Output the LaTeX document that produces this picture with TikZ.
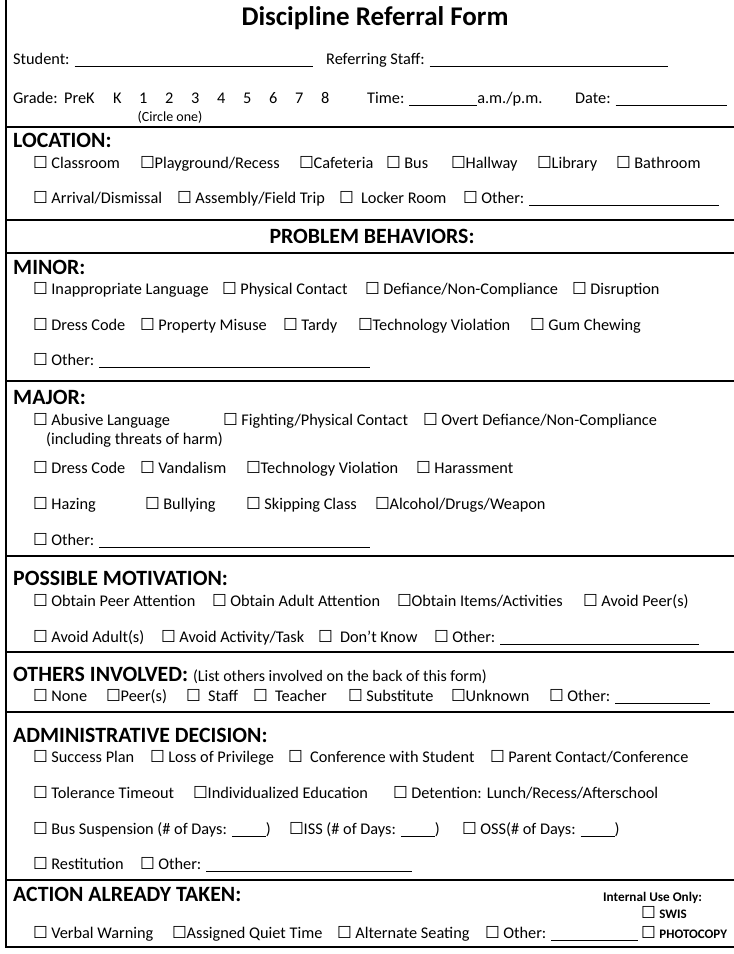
\documentclass[tikz,border=0pt]{standalone}
\usepackage{fontspec}
\setmainfont{Carlito}
\newfontfamily\boxfont{DejaVu Sans}
\newcommand\chk{{\boxfont\fontsize{16.5}{16.5}\selectfont ☐}\kern-0.3pt}
\newcommand\fillin[1]{\rule[-2.5pt]{#1}{0.9pt}}
\tikzset{
  item/.style={anchor=base west, inner sep=0pt, font=\fontsize{16.3}{19}\selectfont},
  heading/.style={anchor=base west, inner sep=0pt, font=\bfseries\fontsize{21.8}{24}\selectfont},
  small/.style={anchor=base west, inner sep=0pt, font=\bfseries\fontsize{13.2}{15}\selectfont},
  divider/.style={line width=1.3pt}
}
\begin{document}
\begin{tikzpicture}[x=1pt,y=-1pt]
      \useasboundingbox (0,0) rectangle (734,954);
      \draw[divider] (6,0) -- (6,947) -- (734,947);
      \foreach \y in {127,220,253,381,556,652,712,880}
        \draw[divider] (6,\y) -- (734,\y);

      \node[anchor=base, inner sep=0pt, font=\bfseries\fontsize{27}{30}\selectfont] (title) at (375,25) {Discipline Referral Form};
      \node[item] (student) at (13,64) {Student: \fillin{238pt}};
      \node[item] (staff) at (326,64) {Referring Staff: \fillin{238pt}};
      \node[item] (grade) at (13,103) {Grade:};
      \node[item] (prek) at (64,103) {PreK};
      \foreach \g [count=\i from 0] in {K,1,2,3,4,5,6,7,8}
        \node[item] (grade\i) at (113+26*\i,103) {\g};
      \node[anchor=base, inner sep=0pt, font=\fontsize{14}{16}\selectfont] (circle) at (170,121) {(Circle one)};
      \node[item] (time) at (367,103) {Time: \fillin{68pt}a.m./p.m.};
      \node[item] (date) at (575,103) {Date: \fillin{111pt}};

      \node[heading] (location) at (13,147) {LOCATION:};
      \node[item] (loc1) at (33,168) {\chk\ Classroom};
      \node[item] (loc2) at (140,168) {\chk Playground/Recess};
      \node[item] (loc3) at (299,168) {\chk Cafeteria};
      \node[item] (loc4) at (386,168) {\chk\ Bus};
      \node[item] (loc5) at (451,168) {\chk Hallway};
      \node[item] (loc6) at (537,168) {\chk Library};
      \node[item] (loc7) at (616,168) {\chk\ Bathroom};
      \node[item] (loc8) at (33,203) {\chk\ Arrival/Dismissal};
      \node[item] (loc9) at (177,203) {\chk\ Assembly/Field Trip};
      \node[item] (loc10) at (339,203) {\chk\ \ Locker Room};
      \node[item] (loc11) at (463,203) {\chk\ Other: \fillin{190pt}};

      \node[heading, anchor=base] (problem) at (372,243) {PROBLEM BEHAVIORS:};

      \node[heading] (minor) at (13,274) {MINOR:};
      \node[item] (min1) at (33,294) {\chk\ Inappropriate Language};
      \node[item] (min2) at (222,294) {\chk\ Physical Contact};
      \node[item] (min3) at (365,294) {\chk\ Defiance/Non-Compliance};
      \node[item] (min4) at (572,294) {\chk\ Disruption};
      \node[item] (min5) at (33,330) {\chk\ Dress Code};
      \node[item] (min6) at (140,330) {\chk\ Property Misuse};
      \node[item] (min7) at (283,330) {\chk\ Tardy};
      \node[item] (min8) at (358,330) {\chk Technology Violation};
      \node[item] (min9) at (530,330) {\chk\ Gum Chewing};
      \node[item] (min10) at (33,365) {\chk\ Other: \fillin{271pt}};

      \node[heading] (major) at (13,404) {MAJOR:};
      \node[item] (maj1) at (33,425) {\chk\ Abusive Language};
      \node[item] (maj1b) at (46,444) {(including threats of harm)};
      \node[item] (maj2) at (223,425) {\chk\ Fighting/Physical Contact};
      \node[item] (maj3) at (423,425) {\chk\ Overt Defiance/Non-Compliance};
      \node[item] (maj4) at (33,473) {\chk\ Dress Code};
      \node[item] (maj5) at (140,473) {\chk\ Vandalism};
      \node[item] (maj6) at (246,473) {\chk Technology Violation};
      \node[item] (maj7) at (416,473) {\chk\ Harassment};
      \node[item] (maj8) at (33,509) {\chk\ Hazing};
      \node[item] (maj9) at (145,509) {\chk\ Bullying};
      \node[item] (maj10) at (246,509) {\chk\ Skipping Class};
      \node[item] (maj11) at (375,509) {\chk Alcohol/Drugs/Weapon};
      \node[item] (maj12) at (33,545) {\chk\ Other: \fillin{271pt}};

      \node[heading] (motivation) at (13,585) {POSSIBLE MOTIVATION:};
      \node[item] (mot1) at (33,606) {\chk\ Obtain Peer Attention};
      \node[item] (mot2) at (212,606) {\chk\ Obtain Adult Attention};
      \node[item] (mot3) at (397,606) {\chk Obtain Items/Activities};
      \node[item] (mot4) at (583,606) {\chk\ Avoid Peer(s)};
      \node[item] (mot5) at (33,642) {\chk\ Avoid Adult(s)};
      \node[item] (mot6) at (161,642) {\chk\ Avoid Activity/Task};
      \node[item] (mot7) at (318,642) {\chk\ \ Don’t Know};
      \node[item] (mot8) at (434,642) {\chk\ Other: \fillin{199pt}};

      \node[heading] (others) at (13,681) {OTHERS INVOLVED: {\mdseries\fontsize{16}{18}\selectfont(List others involved on the back of this form)}};
      \node[item] (oth1) at (33,701) {\chk\ None};
      \node[item] (oth2) at (106,701) {\chk Peer(s)};
      \node[item] (oth3) at (186,701) {\chk\ \ Staff};
      \node[item] (oth4) at (253,701) {\chk\ \ Teacher};
      \node[item] (oth5) at (348,701) {\chk\ Substitute};
      \node[item] (oth6) at (451,701) {\chk Unknown};
      \node[item] (oth7) at (549,701) {\chk\ Other: \fillin{95pt}};

      \node[heading] (decision) at (13,742) {ADMINISTRATIVE DECISION:};
      \node[item] (dec1) at (33,762) {\chk\ Success Plan};
      \node[item] (dec2) at (150,762) {\chk\ Loss of Privilege};
      \node[item] (dec3) at (288,762) {\chk\ \ Conference with Student};
      \node[item] (dec4) at (490,762) {\chk\ Parent Contact/Conference};
      \node[item] (dec5) at (33,798) {\chk\ Tolerance Timeout};
      \node[item] (dec6) at (193,798) {\chk Individualized Education};
      \node[item] (dec7) at (393,798) {\chk\ Detention: Lunch/Recess/Afterschool};
      \node[item] (dec8) at (33,834) {\chk\ Bus Suspension (\# of Days: \fillin{34pt})};
      \node[item] (dec9) at (289,834) {\chk ISS (\# of Days: \fillin{34pt})};
      \node[item] (dec10) at (462,834) {\chk\ OSS(\# of Days: \fillin{34pt})};
      \node[item] (dec11) at (33,869) {\chk\ Restitution};
      \node[item] (dec12) at (140,869) {\chk\ Other: \fillin{206pt}};

      \node[heading] (action) at (13,901) {ACTION ALREADY TAKEN:};
      \node[small] (internal) at (603,901) {Internal Use Only:};
      \node[item] (swis) at (641,918) {\chk\ {\bfseries\fontsize{13}{15}\selectfont SWIS}};
      \node[item] (act1) at (33,938) {\chk\ Verbal Warning};
      \node[item] (act2) at (172,938) {\chk Assigned Quiet Time};
      \node[item] (act3) at (337,938) {\chk\ Alternate Seating};
      \node[item] (act4) at (485,938) {\chk\ Other: \fillin{87pt}};
      \node[item] (photocopy) at (641,938) {\chk\ {\bfseries\fontsize{13}{15}\selectfont PHOTOCOPY}};
    \end{tikzpicture}
\end{document}
